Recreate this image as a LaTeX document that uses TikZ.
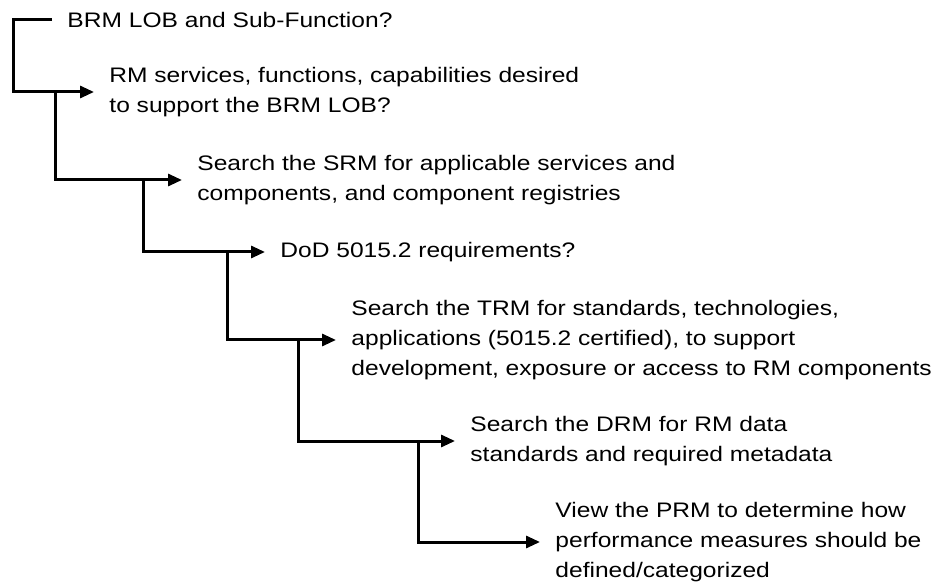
\documentclass[tikz,border=0pt]{standalone}
\usepackage{fontspec}
\setmainfont{Liberation Sans}
\usetikzlibrary{arrows.meta,calc}
\begin{document}
\begin{tikzpicture}[x=1pt,y=-1pt,
  stepnote/.style={anchor=west,align=left,inner xsep=13pt,inner ysep=0pt,
    xscale=1.17,transform shape,
    font=\fontsize{21}{30}\selectfont},
  link/.style={line width=3pt,line cap=butt,line join=miter},
  arr/.style={link,-{Triangle[length=14pt,width=12pt]}}]
\useasboundingbox (0,0) rectangle (935,585);

\node[stepnote] (n1) at (52,20)  {BRM LOB and Sub-Function?};
\node[stepnote] (n2) at (94,92)  {RM services, functions, capabilities desired\\to support the BRM LOB?};
\node[stepnote] (n3) at (182,180) {Search the SRM for applicable services and\\components, and component registries};
\node[stepnote] (n4) at (265,252) {DoD 5015.2 requirements?};
\node[stepnote] (n5) at (336,340) {Search the TRM for standards, technologies,\\applications (5015.2 certified), to support\\development, exposure or access to RM components};
\node[stepnote] (n6) at (455,441) {Search the DRM for RM data\\standards and required metadata};
\node[stepnote] (n7) at (540,542) {View the PRM to determine how\\performance measures should be\\defined/categorized};

% first bracket starts at the top line and drops to the second item
\draw[arr] (n1.west) -- ++(-39,0) |- (n2.west);
% each following bracket drops from the previous arrow's shaft
\draw[arr] ($(n2.west)+(-39,0)$) |- (n3.west);
\draw[arr] ($(n3.west)+(-39,0)$) |- (n4.west);
\draw[arr] ($(n4.west)+(-38,0)$) |- (n5.west);
\draw[arr] ($(n5.west)+(-38,0)$) |- (n6.west);
\draw[arr] ($(n6.west)+(-37,0)$) |- (n7.west);
\end{tikzpicture}
\end{document}
